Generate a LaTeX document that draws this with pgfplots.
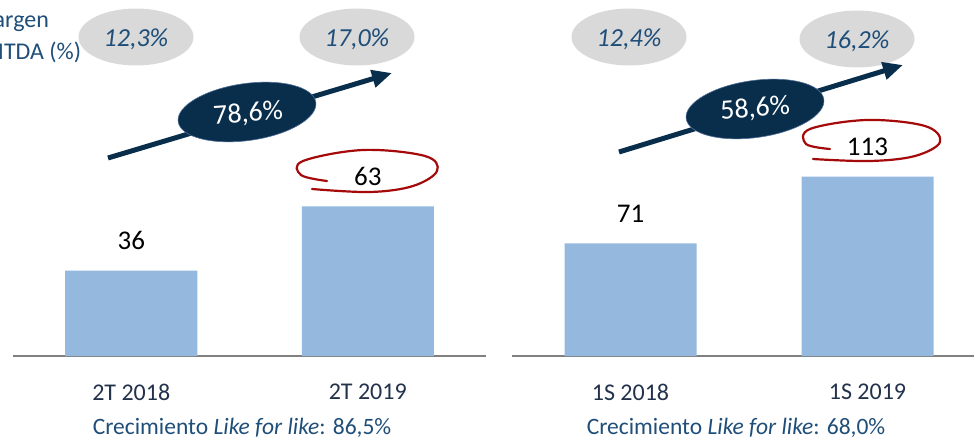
\documentclass[border=0pt]{standalone}
\usepackage{pgfplots}
\pgfplotsset{compat=1.18}
\usepackage{fontspec}
\setmainfont{Carlito}
\usetikzlibrary{arrows.meta,shapes.geometric}
\definecolor{barblue}{RGB}{149,184,223}
\definecolor{navy}{RGB}{8,46,76}
\definecolor{navyedge}{RGB}{80,110,150}
\definecolor{txtblue}{RGB}{31,78,121}
\definecolor{ellgray}{RGB}{217,217,217}
\definecolor{redl}{RGB}{165,10,10}
\definecolor{axgray}{RGB}{128,128,128}
\definecolor{ticktxt}{RGB}{35,50,75}
\pgfplotsset{
  mybar/.style={
    scale only axis,
    anchor=south west,
    axis x line*=bottom,
    axis y line=none,
    x axis line style={draw=axgray, line width=2.6pt, -},
    xtick={0,1},
    major tick length=0pt,
    ymin=0,
    ybar, bar width=132pt, bar shift=0pt,
    /pgf/number format/assume math mode=true,
    nodes near coords,
    nodes near coords style={font=\fontsize{27}{30}\selectfont, text=black, anchor=center, yshift=30pt},
    xticklabel style={font=\fontsize{24}{30}\selectfont, text=ticktxt, anchor=center, yshift=-36pt},
    clip=false,
  }
}
\begin{document}
\begin{tikzpicture}
\useasboundingbox (0pt,0pt) rectangle (974pt,440pt);
\begin{axis}[mybar, at={(13pt,84pt)}, width=473pt, height=235pt,
  xmin=-0.5, xmax=1.5, ymax=99, xticklabels={2T 2018, 2T 2019}]
\addplot[fill=barblue, draw=none] coordinates {(0,36) (1,63)};
\end{axis}
\begin{scope}
\clip (0pt,0pt) rectangle (974pt,440pt);
\begin{axis}[mybar, at={(512pt,84pt)}, width=462.5pt, height=238pt,
  xmin=-0.5, xmax=1.4515, ymax=150, xticklabels={1S 2018, 1S 2019}]
\addplot[fill=barblue, draw=none] coordinates {(0,71) (1,113)};
\end{axis}
\end{scope}
\begin{scope}
\clip (0pt,0pt) rectangle (974pt,440pt);
  \node[anchor=base west, text=txtblue, font=\fontsize{24}{28}\selectfont, inner sep=0] at (-27pt,412pt) {Margen};
  \node[anchor=base west, text=txtblue, font=\fontsize{24}{28}\selectfont, inner sep=0] at (-27pt,380pt) {EBITDA (\%)};
\end{scope}
\begin{scope}[x=1pt,y=-1pt,shift={(0pt,440pt)}]
  % gray ellipses
  \foreach \cx/\cy/\lab in {136/37/{12,3\%}, 357/37/{17,0\%}, 629/37/{12,4\%}, 857/39/{16,2\%}}{
    \node[ellipse, fill=ellgray, minimum width=115pt, minimum height=57pt, inner sep=0] at (\cx,\cy) {};
    \node[text=txtblue, font=\fontsize{26}{30}\selectfont\itshape, inner sep=0] at (\cx,\cy+2) {\lab};
  }
  % arrows
  \draw[navy, line width=5pt, -{Triangle[length=20pt,width=17pt]}] (108,158) -- (392,73);
  \draw[navy, line width=5pt, -{Triangle[length=20pt,width=17pt]}] (619,152) -- (903,65);
  % dark ellipses
  \node[ellipse, fill=navy, draw=navyedge, line width=0.6pt, minimum width=139pt, minimum height=57pt, inner sep=0, rotate=8] at (247,112) {};
  \node[text=white, font=\fontsize{28}{30}\selectfont, inner sep=0, rotate=4] at (248,114) {78,6\%};
  \node[ellipse, fill=navy, draw=navyedge, line width=0.6pt, minimum width=139pt, minimum height=57pt, inner sep=0, rotate=8] at (755,109) {};
  \node[text=white, font=\fontsize{28}{30}\selectfont, inner sep=0, rotate=4] at (755,109) {58,6\%};
  % red hand-drawn loops
  \draw[redl, line width=2.2pt, line cap=round] plot[smooth, tension=0.6] coordinates {(327,181) (301,175) (303,161) (363,150) (425,156) (437,171) (413,186) (370,192) (312,189)};
  \draw[redl, line width=2.2pt, line cap=round] plot[smooth, tension=0.6] coordinates {(830,149) (806,144) (810,129) (867,120) (925,126) (940,142) (915,156) (870,161) (813,159)};
  % bottom texts
  \node[text=txtblue, font=\fontsize{23.5}{26}\selectfont, inner sep=0] at (242,428) {Crecimiento \textit{Like for like}: 86,5\%};
  \node[text=txtblue, font=\fontsize{23.5}{26}\selectfont, inner sep=0] at (736,428) {Crecimiento \textit{Like for like}: 68,0\%};
\end{scope}
\end{tikzpicture}
\end{document}
